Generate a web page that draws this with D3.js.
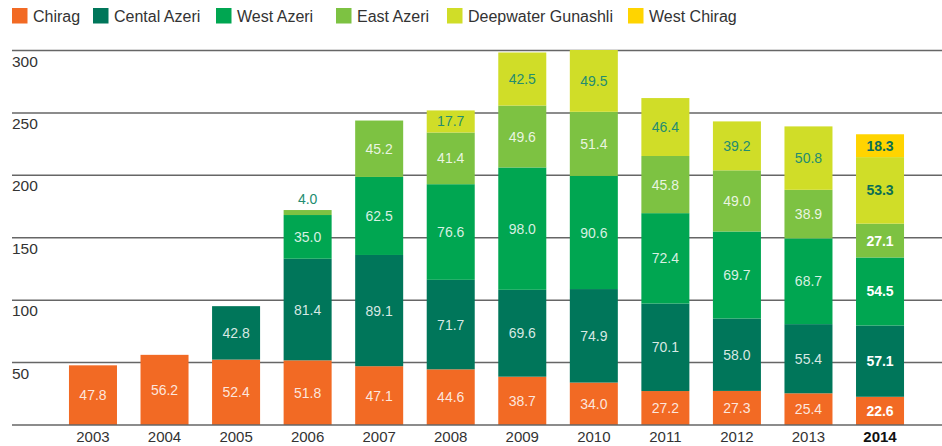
<html>
<head>
<meta charset="utf-8">
<script src="https://d3js.org/d3.v7.min.js"></script>
<style>
body { margin: 0; background: #fff; }
svg text { font-family: "Liberation Sans", Arial, sans-serif; }
</style>
</head>
<body>
<svg id="chart" width="942" height="446"></svg>
<script>

var years  = ["2003","2004","2005","2006","2007","2008","2009","2010","2011","2012","2013","2014"]
var fields = ["Chirag","Cental Azeri","West Azeri","East Azeri","Deepwater Gunashli","West Chirag"]
var colors = ["#f26a24","#00765a","#00a651","#7dc242","#d0dd28","#ffd400"]
var yTicks = [50, 100, 150, 200, 250, 300]

var chirag     = [47.8, 56.2, 52.4, 51.8, 47.1, 44.6, 38.7, 34.0, 27.2, 27.3, 25.4, 22.6]
var centAzeri  = [0, 0, 42.8, 81.4, 89.1, 71.7, 69.6, 74.9, 70.1, 58.0, 55.4, 57.1]
var westAzeri  = [0, 0, 0, 35.0, 62.5, 76.6, 98.0, 90.6, 72.4, 69.7, 68.7, 54.5]
var eastAzeri  = [0, 0, 0, 4.0, 45.2, 41.4, 49.6, 51.4, 45.8, 49.0, 38.9, 27.1]
var deepwater  = [0, 0, 0, 0, 0, 17.7, 42.5, 49.5, 46.4, 39.2, 50.8, 53.3]
var westChirag = [0, 0, 0, 0, 0, 0, 0, 0, 0, 0, 0, 18.3]

var series = [chirag, centAzeri, westAzeri, eastAzeri, deepwater, westChirag]
var data = years.map((y, i) => {
	var row = {year: y}
	fields.forEach((f, k) => row[f] = series[k][i])
	return row
})

var svg = d3.select("#chart")
var z = d3.scaleOrdinal().domain(fields).range(colors)

var x = d3.scaleBand()
	.domain(years)
	.range([57.2, 915.8])
	.paddingInner(0.329)
	.paddingOuter(0.1645)

var y = d3.scaleLinear()
	.domain([0, 300])
	.range([425, 50.5])

// legend
var legX = [12, 93, 216, 336, 447, 628]
var leg = svg.selectAll("g.leg").data(fields)
	.enter().append("g").attr("class", "leg")
	.attr("transform", (d, i) => `translate(${legX[i]},8)`)
leg.append("rect").attr("width", 15.5).attr("height", 15.5).attr("fill", d => z(d))
leg.append("text").attr("x", 21).attr("y", 14)
	.attr("font-size", 16).attr("fill", "#333").text(d => d)

// grid
var grid = svg.append("g")
grid.selectAll("line").data(yTicks).enter().append("line")
	.attr("x1", 12).attr("x2", 942)
	.attr("y1", d => y(d)).attr("y2", d => y(d))
	.attr("stroke", "#666").attr("stroke-width", 1.5)
grid.selectAll("text").data(yTicks).enter().append("text")
	.attr("x", 12).attr("y", d => y(d) + 16)
	.attr("font-size", 15.5).attr("fill", "#333").text(d => d)

// bars
var stack = d3.stack().keys(fields)(data)
var layer = svg.selectAll("g.layer").data(stack)
	.enter().append("g").attr("class", "layer").attr("fill", d => z(d.key))
layer.selectAll("rect").data(d => d.filter(e => e[1] > e[0]))
	.enter().append("rect")
	.attr("x", d => x(d.data.year))
	.attr("width", x.bandwidth())
	.attr("y", d => y(d[1]))
	.attr("height", d => y(d[0]) - y(d[1]))

// labels
var darkKeys = ["Deepwater Gunashli", "West Chirag"]
var lab = svg.append("g")
stack.forEach(s => {
	s.filter(e => e[1] > e[0]).forEach(e => {
		var v = e[1] - e[0]
		var bold = e.data.year == "2014"
		var small = v < 8
		var dark = small || darkKeys.includes(s.key)
		lab.append("text")
			.attr("x", x(e.data.year) + x.bandwidth() / 2)
			.attr("y", small ? y(e[1]) - 6 : (y(e[0]) + y(e[1])) / 2 + 5)
			.attr("text-anchor", "middle")
			.attr("font-size", 14)
			.attr("font-weight", bold ? "bold" : "normal")
			.attr("fill", dark ? (bold ? "#0b6e55" : "#238c70") : "#fff")
			.attr("fill-opacity", bold || dark ? 1 : 0.85)
			.text(v.toFixed(1))
	})
})

// baseline and x axis labels
svg.append("line").attr("x1", 12).attr("x2", 942)
	.attr("y1", y(0)).attr("y2", y(0))
	.attr("stroke", "#666").attr("stroke-width", 1.5)
svg.append("g").selectAll("text").data(years).enter().append("text")
	.attr("x", d => x(d) + x.bandwidth() / 2)
	.attr("y", 442)
	.attr("text-anchor", "middle")
	.attr("font-size", 15)
	.attr("font-weight", d => d == "2014" ? "bold" : "normal")
	.attr("fill", d => d == "2014" ? "#111" : "#333")
	.text(d => d)

</script>
</body>
</html>
